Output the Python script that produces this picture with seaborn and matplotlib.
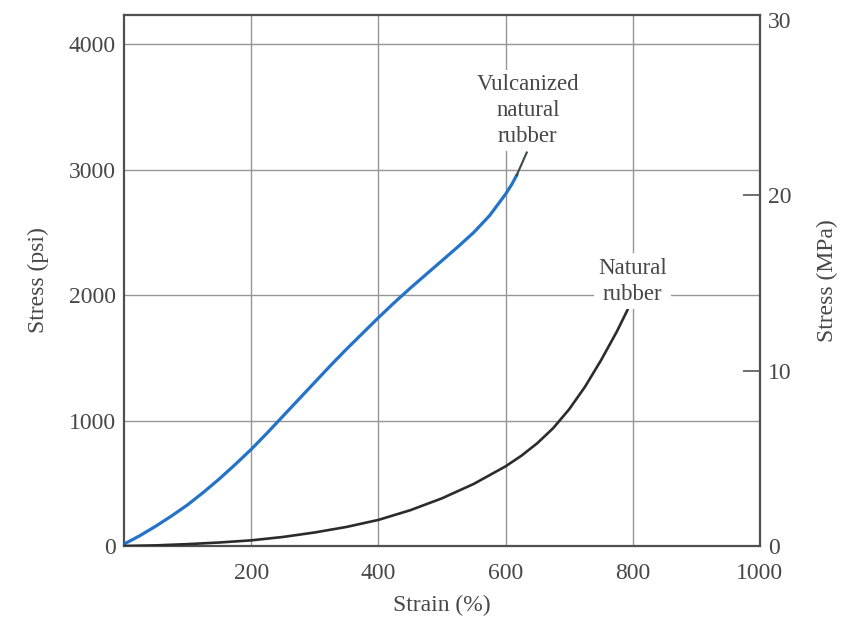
import numpy as np
import pandas as pd
import matplotlib
matplotlib.use("Agg")
import matplotlib.pyplot as plt
import seaborn as sns

# Data (strain in %, stress in psi)
vulc_strain = [0, 25, 50, 75, 100, 125, 150, 175, 200, 225, 250, 275, 300, 325,
               350, 375, 400, 425, 450, 475, 500, 525, 550, 575, 600, 610, 618]
vulc_stress = [15, 82, 158, 240, 328, 428, 535, 650, 770, 900, 1035, 1170, 1305, 1440,
               1570, 1695, 1820, 1940, 2055, 2165, 2275, 2385, 2500, 2635, 2805, 2885, 2960]
vulc_leader_strain = [617, 634]
vulc_leader_stress = [2950, 3145]

nat_strain = [0, 50, 100, 150, 200, 250, 300, 350, 400, 450, 500, 550, 600, 625, 650,
              675, 700, 725, 750, 775, 792]
nat_stress = [0, 5, 15, 28, 45, 72, 108, 152, 208, 285, 380, 495, 635, 720, 820,
              940, 1090, 1270, 1480, 1710, 1885]

x_ticks = [200, 400, 600, 800, 1000]
y_ticks = [0, 1000, 2000, 3000, 4000]
mpa_major = [10, 20]
mpa_minor = [0, 30]

sns.set_theme(style="white")
plt.rcParams['font.family'] = ['Liberation Serif', 'DejaVu Serif']
txt = "#474747"
grid_c = "#959595"
FS = 17

fig = plt.figure(figsize=(8.43, 6.18), dpi=100)
ax = fig.add_axes([0.147, 0.1165, 0.7545, 0.8595])

df_v = pd.DataFrame({"strain": vulc_strain, "stress": vulc_stress})
df_n = pd.DataFrame({"strain": nat_strain, "stress": nat_stress})

sns.lineplot(data=df_v, x="strain", y="stress", ax=ax, color="#2473c9", lw=2.3, zorder=4)
ax.plot(vulc_leader_strain, vulc_leader_stress, color="#3a4a44", lw=1.5, zorder=4,
        solid_capstyle="butt")
sns.lineplot(data=df_n, x="strain", y="stress", ax=ax, color="#2b2b2b", lw=1.9, zorder=4)

ax.set_xlim(0, 1000)
ax.set_ylim(0, 4235)
ax.set_xticks(x_ticks)
ax.set_yticks(y_ticks)
ax.set_xticklabels([str(v) for v in x_ticks])
ax.set_yticklabels([str(v) for v in y_ticks])
ax.tick_params(axis="x", length=0, labelsize=FS, labelcolor=txt, pad=12)
ax.tick_params(axis="y", length=0, labelsize=FS, labelcolor=txt, pad=6)
ax.grid(True, color=grid_c, lw=1.0, zorder=0)
ax.set_axisbelow(True)
for s in ax.spines.values():
    s.set_color("#505050")
    s.set_linewidth(1.6)
ax.set_xlabel("Strain (%)", fontsize=FS, color=txt, labelpad=8)
ax.set_ylabel("Stress (psi)", fontsize=FS, color=txt, labelpad=14)

ax2 = ax.twinx()
ax2.set_ylim(0, 30.3)
ax2.set_yticks(mpa_major)
ax2.set_yticklabels([str(v) for v in mpa_major])
ax2.set_yticks(mpa_minor, minor=True)
ax2.set_yticklabels([str(v) for v in mpa_minor], minor=True)
ax2.tick_params(axis="y", which="major", direction="in", length=12, width=1.2,
                color="#555555", labelsize=FS, labelcolor=txt, pad=6)
ax2.tick_params(axis="y", which="minor", direction="in", length=0,
                labelsize=FS, labelcolor=txt, pad=6)
ax2.grid(False)
for s in ax2.spines.values():
    s.set_visible(False)
ax2.set_ylabel("Stress (MPa)", fontsize=FS, color=txt, rotation=90, labelpad=18)

ax.text(635, 3474, "Vulcanized\nnatural\nrubber", ha="center", va="center", fontsize=16.5,
        color=txt, linespacing=1.32, zorder=5,
        bbox=dict(facecolor="white", edgecolor="none", pad=3))
ax.text(800, 2112, "Natural\nrubber", ha="center", va="center", fontsize=16.5,
        color=txt, linespacing=1.32, zorder=5,
        bbox=dict(facecolor="white", edgecolor="none", pad=3))

fig.savefig("out.png", dpi=100)
